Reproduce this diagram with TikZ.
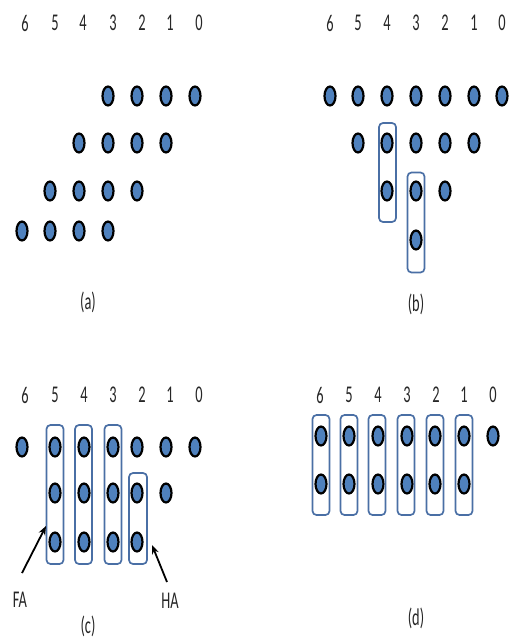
\documentclass[tikz,border=0pt]{standalone}
\usepackage{fontspec}
\setmainfont[FakeStretch=0.6]{Carlito}
\usetikzlibrary{shapes.geometric,arrows.meta}
\definecolor{dotblue}{HTML}{4F81BD}
\definecolor{boxblue}{HTML}{4A6FA5}
\begin{document}
\begin{tikzpicture}[x=1pt,y=-1pt,
  dot/.style={ellipse,draw=black,line width=2.2pt,fill=dotblue,minimum width=11pt,minimum height=19pt,inner sep=0pt},
  grp/.style={draw=boxblue,line width=1.7pt,rounded corners=4pt,minimum width=17pt,inner sep=0pt},
  lab/.style={font=\fontsize{24}{24}\selectfont,inner sep=0pt,text=black!85},
  arr/.style={-{Stealth[length=9pt,width=7pt]},line width=1.8pt}]
\useasboundingbox (0,0) rectangle (508,639);
% ---------- panel (a)
\foreach \t/\x in {6/25,5/55,4/83,3/113,2/142,1/170,0/199}
  \node[lab] (a-l\t) at (\x,23) {\t};
\foreach \c/\x in {3/108,2/137,1/166,0/195} \node[dot] (a-r1-c\c) at (\x,96) {};
\foreach \c/\x in {4/79,3/108,2/137,1/166} \node[dot] (a-r2-c\c) at (\x,143) {};
\foreach \c/\x in {5/50,4/79,3/108,2/137} \node[dot] (a-r3-c\c) at (\x,191) {};
\foreach \c/\x in {6/22,5/50,4/79,3/108} \node[dot] (a-r4-c\c) at (\x,231) {};
\node[lab] (a-cap) at (88,302) {(a)};
% ---------- panel (b)
\foreach \t/\x in {6/330,5/358,4/387,3/416,2/445,1/474,0/502}
  \node[lab] (b-l\t) at (\x,23) {\t};
\foreach \c/\x in {6/330,5/358,4/387,3/416,2/445,1/474,0/502} \node[dot] (b-r1-c\c) at (\x,96) {};
\foreach \c/\x in {5/358,4/387,3/416,2/445,1/474} \node[dot] (b-r2-c\c) at (\x,143) {};
\foreach \c/\x in {4/387,3/416,2/445} \node[dot] (b-r3-c\c) at (\x,191) {};
\node[dot] (b-r4-c3) at (416,240) {};
\node[grp,minimum height=99pt] (b-box4) at (387.5,172.5) {};
\node[grp,minimum height=100pt] (b-box3) at (416,222.5) {};
\node[lab] (b-cap) at (416,304) {(b)};
% ---------- panel (c)
\foreach \t/\x in {6/25,5/55,4/84,3/113,2/142,1/170,0/199}
  \node[lab] (c-l\t) at (\x,395) {\t};
\foreach \c/\x in {6/22,5/55,4/84,3/113,2/137,1/166,0/195} \node[dot] (c-r1-c\c) at (\x,447) {};
\foreach \c/\x in {5/55,4/84,3/113,2/137,1/166} \node[dot] (c-r2-c\c) at (\x,493) {};
\foreach \c/\x in {5/55,4/84,3/113,2/137} \node[dot] (c-r3-c\c) at (\x,542) {};
\node[grp,minimum height=139pt] (c-box5) at (55,494.5) {};
\node[grp,minimum height=139pt] (c-box4) at (83.5,494.5) {};
\node[grp,minimum height=139pt] (c-box3) at (113,494.5) {};
\node[grp,minimum height=91pt,minimum width=18pt] (c-box2) at (138,518.5) {};
\node[lab] (FA) at (20,600) {FA};
\node[lab] (HA) at (170,601) {HA};
\coordinate (fa-s) at (22,573);
\coordinate (fa-e) at (46,526);
\coordinate (ha-s) at (167,582);
\coordinate (ha-e) at (152,545);
\draw[arr] (fa-s) -- (fa-e);
\draw[arr] (ha-s) -- (ha-e);
\node[lab] (c-cap) at (88,626) {(c)};
% ---------- panel (d)
\foreach \t/\x in {6/320,5/349,4/378,3/407,2/436,1/464,0/493}
  \node[lab] (d-l\t) at (\x,395) {\t};
\foreach \c/\x in {6/321,5/349,4/378,3/407,2/435,1/464,0/493} \node[dot] (d-r1-c\c) at (\x,436) {};
\foreach \c/\x in {6/321,5/349,4/378,3/407,2/435,1/464} \node[dot] (d-r2-c\c) at (\x,484) {};
\foreach \c/\x in {6/321,5/349,4/377,3/406,2/435,1/464}
  \node[grp,minimum height=100pt] (d-box\c) at (\x,465) {};
\node[lab] (d-cap) at (416,618) {(d)};
\end{tikzpicture}
\end{document}
